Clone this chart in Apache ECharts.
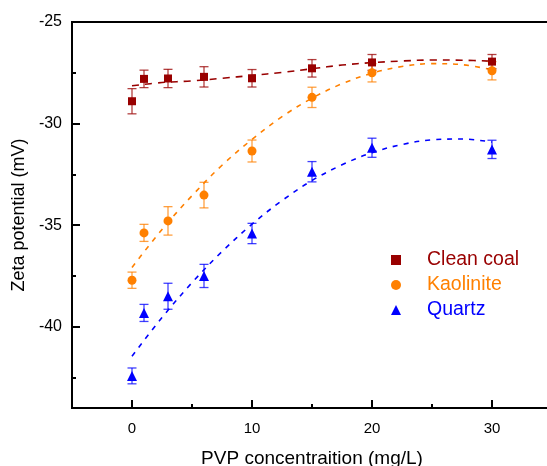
<!DOCTYPE html>
<html><head><meta charset="utf-8">
<script src="https://cdn.jsdelivr.net/npm/echarts@6/dist/echarts.min.js"></script>
<style>html,body{margin:0;padding:0;background:#fff}#c{width:547px;height:466px}</style>
</head><body><div id="c"></div>
<script>
// measured data
const xs = [0, 1, 3, 6, 10, 15, 20, 30];
const coalY = [-28.9, -27.8, -27.78, -27.7, -27.77, -27.28, -26.99, -26.95];
const coalErr = [0.62, 0.43, 0.45, 0.5, 0.43, 0.43, 0.39, 0.35];
const kaoY = [-37.71, -35.38, -34.79, -33.52, -31.35, -28.71, -27.5, -27.4];
const kaoErr = [0.4, 0.42, 0.7, 0.63, 0.54, 0.5, 0.45, 0.45];
const quaY = [-42.42, -39.32, -38.5, -37.5, -35.41, -32.37, -31.19, -31.27];
const quaErr = [0.39, 0.42, 0.64, 0.57, 0.5, 0.5, 0.47, 0.45];
// fitted dashed curves
const fitX = [0, 2.5, 5, 7.5, 10, 12.5, 15, 17.5, 20, 22.5, 25, 27.5, 30];
const coalFit = [-28.14, -27.98, -27.9, -27.77, -27.63, -27.48, -27.3, -27.12, -27.0, -26.92, -26.87, -26.88, -26.93];
const kaoFit = [-37.08, -35.21, -33.55, -32.05, -30.78, -29.66, -28.75, -28.04, -27.52, -27.19, -27.05, -27.1, -27.35];
const quaFit = [-41.45, -39.55, -37.83, -36.3, -34.95, -33.79, -32.8, -32.03, -31.43, -31.03, -30.8, -30.76, -30.91];
const names = ['Clean coal', 'Kaolinite', 'Quartz'];
const colors = ['#990000', '#FF8000', '#0000FF'];
const symbols = ['rect', 'circle', 'triangle'];
const symSizes = [8, 9, 10];
const yMajor = [-40, -35, -30, -25];
const yMinor = [-42.5, -37.5, -32.5, -27.5];
const xMajor = [0, 10, 20, 30];
const xMinor = [5, 15, 25];

const font = 'Liberation Sans, Arial, sans-serif';
const ys = [coalY, kaoY, quaY], errs = [coalErr, kaoErr, quaErr], fits = [coalFit, kaoFit, quaFit];
const series = [];
for (let i = 0; i < 3; i++) {
  series.push({
    type: 'line', name: names[i] + ' fit', data: fitX.map((x, j) => [x, fits[i][j]]),
    smooth: 0.35, showSymbol: false, symbol: 'none', silent: true, z: 1,
    lineStyle: { color: colors[i], width: 1.6, type: i === 0 ? [7, 6] : [5, 6] }
  });
}
for (let i = 0; i < 3; i++) {
  series.push({
    type: 'custom', name: names[i] + ' err', z: 2, silent: true,
    data: xs.map((x, j) => [x, ys[i][j] - errs[i][j], ys[i][j] + errs[i][j]]),
    renderItem: function (params, api) {
      const lo = api.coord([api.value(0), api.value(1)]);
      const hi = api.coord([api.value(0), api.value(2)]);
      const w = 4.5;
      const st = { stroke: colors[i], lineWidth: 1.3, opacity: 0.75 };
      return { type: 'group', children: [
        { type: 'line', shape: { x1: lo[0], y1: lo[1], x2: hi[0], y2: hi[1] }, style: st },
        { type: 'line', shape: { x1: lo[0] - w, y1: lo[1], x2: lo[0] + w, y2: lo[1] }, style: st },
        { type: 'line', shape: { x1: hi[0] - w, y1: hi[1], x2: hi[0] + w, y2: hi[1] }, style: st }
      ]};
    }
  });
}
for (let i = 0; i < 3; i++) {
  series.push({
    type: 'scatter', name: names[i], z: 3,
    data: xs.map((x, j) => [x, ys[i][j]]),
    symbol: symbols[i], symbolSize: symSizes[i],
    itemStyle: { color: colors[i], opacity: 1 }
  });
}
// minor tick carriers
series.push({ type: 'line', data: [], xAxisIndex: 1, yAxisIndex: 1 });

const chart = echarts.init(document.getElementById('c'), null, { renderer: 'canvas' });
chart.setOption({
  animation: false,
  backgroundColor: '#fff',
  grid: { left: 72, top: 22, right: -5, bottom: 58, outerBoundsMode: 'none', containLabel: false,
          show: true, borderColor: '#000', borderWidth: 2, backgroundColor: 'transparent' },
  legend: {
    orient: 'vertical', left: 386, top: 245, itemWidth: 10, itemHeight: 10, itemGap: 5,
    data: names.map((n, i) => ({ name: n, icon: symbols[i], textStyle: { color: colors[i] } })),
    textStyle: { fontSize: 19.5, fontFamily: font, padding: [0, 0, 0, 21] },
    itemStyle: { borderWidth: 0 }
  },
  xAxis: [{
    type: 'value', min: -5, max: 35, position: 'bottom',
    name: 'PVP concentraition (mg/L)', nameLocation: 'middle', nameGap: 41,
    nameTextStyle: { fontSize: 19, fontFamily: font, color: '#000' },
    axisLine: { onZero: false, lineStyle: { color: '#000', width: 2 } },
    axisTick: { inside: true, length: 8, lineStyle: { color: '#000', width: 2 }, customValues: xMajor },
    axisLabel: { fontSize: 15, fontFamily: font, color: '#000', margin: 13, customValues: xMajor },
    splitLine: { show: false }
  }, {
    type: 'value', min: -5, max: 35, position: 'bottom',
    axisLine: { show: false, onZero: false },
    axisTick: { inside: true, length: 4, lineStyle: { color: '#000', width: 2 }, customValues: xMinor },
    axisLabel: { show: false }, splitLine: { show: false }
  }],
  yAxis: [{
    type: 'value', min: -44, max: -25, position: 'left',
    name: 'Zeta potential (mV)', nameLocation: 'middle', nameGap: 37, nameRotate: 90,
    nameTextStyle: { fontSize: 18, fontFamily: font, color: '#000' },
    axisLine: { onZero: false, lineStyle: { color: '#000', width: 2 } },
    axisTick: { inside: true, length: 8, lineStyle: { color: '#000', width: 2 }, customValues: yMajor },
    axisLabel: { fontSize: 16, fontFamily: font, color: '#000', margin: 10, customValues: yMajor },
    splitLine: { show: false }
  }, {
    type: 'value', min: -44, max: -25, position: 'left',
    axisLine: { show: false, onZero: false },
    axisTick: { inside: true, length: 4, lineStyle: { color: '#000', width: 2 }, customValues: yMinor },
    axisLabel: { show: false }, splitLine: { show: false }
  }],
  series: series
});
</script></body></html>
